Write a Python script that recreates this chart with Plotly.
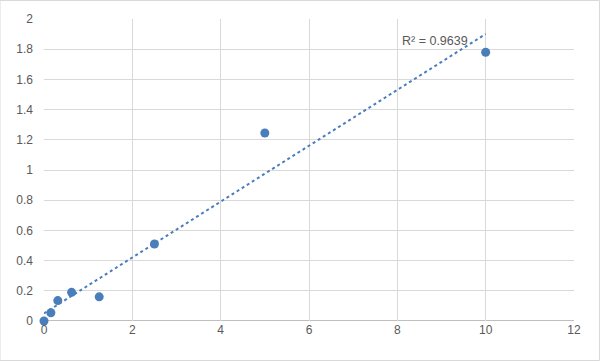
import numpy as np
import plotly.graph_objects as go

conc = [0, 0.156, 0.3125, 0.625, 1.25, 2.5, 5, 10]
od = [0.0, 0.055, 0.135, 0.19, 0.16, 0.51, 1.245, 1.78]
r2_label = "R² = 0.9639"
x_ticks = [0, 2, 4, 6, 8, 10, 12]
y_ticks = [0, 0.2, 0.4, 0.6, 0.8, 1, 1.2, 1.4, 1.6, 1.8, 2]

slope, intercept = np.polyfit(conc, od, 1)
tx = [min(conc), max(conc)]
ty = [slope * v + intercept for v in tx]

color = "#4a7ebb"
fig = go.Figure()
fig.add_trace(go.Scatter(x=tx, y=ty, mode="lines",
                         line=dict(color=color, width=2, dash="dot"),
                         hoverinfo="skip", cliponaxis=False))
fig.add_trace(go.Scatter(x=conc, y=od, mode="markers", cliponaxis=False,
                         marker=dict(color=color, size=9)))
fig.add_annotation(x=8.85, y=1.855, text=r2_label, showarrow=False,
                   font=dict(size=12.5, color="#595959", family="Liberation Sans"))

axis_font = dict(size=12, color="#595959", family="Liberation Sans")
fig.update_layout(
    width=600, height=361,
    margin=dict(l=44, r=26, t=19, b=40),
    paper_bgcolor="white", plot_bgcolor="white",
    showlegend=False,
    xaxis=dict(range=[0, 12], tickvals=x_ticks, showgrid=True, gridcolor="#d9d9d9",
               gridwidth=1, zeroline=False, showline=False, tickfont=axis_font,
               ticks="", fixedrange=True),
    yaxis=dict(range=[0, 2], tickvals=y_ticks, showgrid=True, gridcolor="#d9d9d9",
               gridwidth=1, zeroline=False, showline=False, tickfont=axis_font,
               ticks="", ticklabelstandoff=10, fixedrange=True),
    shapes=[
        dict(type="line", xref="x", yref="y", x0=0, x1=12, y0=0, y1=0,
             line=dict(color="#bfbfbf", width=2), layer="below"),
        dict(type="rect", xref="paper", yref="paper", x0=-44/530, x1=1+25.5/530,
             y0=-39.5/302, y1=1+18.5/302, line=dict(color="#d9d9d9", width=1)),
    ],
)
fig.write_html("out.html")
